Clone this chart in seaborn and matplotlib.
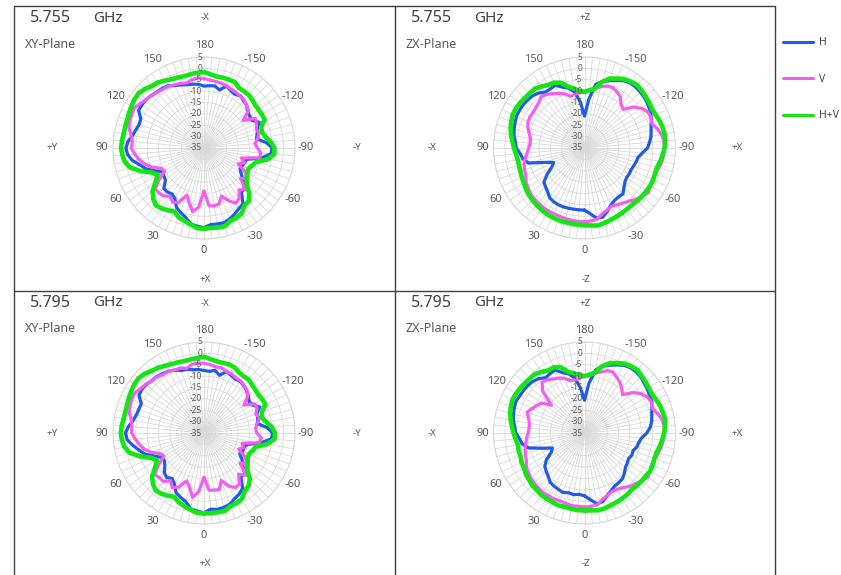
import numpy as np
import pandas as pd
import matplotlib
matplotlib.use('Agg')
import matplotlib.pyplot as plt
import matplotlib.transforms as mtransforms
from matplotlib.lines import Line2D
import seaborn as sns

sns.set_theme(style='white')
plt.rcParams['font.family'] = ['Noto Sans', 'DejaVu Sans']

# angles every 5 deg, 0 = bottom, 90 = left, 180 = top, 270 (= -90) = right
angle_deg = list(range(0, 360, 5))
r_ticks = [5, 0, -5, -10, -15, -20, -25, -30, -35]
series_names = ['H', 'V', 'H+V']

# ---- 5.755 GHz XY-Plane ----
xy1_h = [0.0, -0.5, -1.2, -3.5, -4.8, -6.3, -9.4, -10.4, -9.8, -10.0,
         -12.9, -13.5, -13.9, -11.3, -8.0, -6.0, -3.1, -1.3, -0.7, -1.5,
         -3.1, -4.0, -4.7, -4.3, -1.8, -1.8, -1.8, -2.3, -2.8, -3.0,
         -3.4, -4.7, -5.5, -6.2, -6.5, -6.9, -7.8] + \
        [-7.5, -7.3, -8.6, -6.0, -7.2, -7.8, -7.0, -8.0, -8.4, -10.0,
         -10.5, -10.7, -8.2, -10.0, -10.8, -11.6, -7.5, -5.0, -5.5, -9.5,
         -15.8, -16.0, -16.5, -16.7, -15.0, -12.5, -10.0, -9.4, -5.1, -4.3,
         -3.0, -1.9, -1.0, -1.1, -1.2]
xy1_v = [-16.0, -9.0, -6.5, -10.0, -13.0, -8.5, -7.5, -9.0, -7.5, -7.0,
         -7.0, -11.0, -15.0, -14.0, -10.5, -8.0, -6.0, -4.4, -3.0, -3.4,
         -2.5, -0.8, -0.3, 0.0, 0.3, -0.9, -1.8, -2.4, -3.0, -3.5,
         -3.8, -4.3, -4.8, -5.4, -4.5, -4.0, -4.5] + \
        [-5.0, -5.3, -5.5, -6.0, -6.5, -6.8, -7.2, -7.5, -8.5, -9.5,
         -14.0, -9.0, -9.5, -10.5, -10.0, -11.0, -12.5, -11.5, -10.0, -10.0,
         -18.0, -16.0, -18.5, -14.0, -12.0, -14.0, -9.0, -11.0, -8.0, -7.0,
         -9.5, -12.5, -9.5, -9.2, -9.5]
xy1_hv = [0.5, 0.4, -0.9, -1.8, -2.5, -4.2, -3.4, -2.6, -2.1, -3.5,
          -5.5, -9.0, -11.5, -9.5, -5.4, -1.5, 0.3, 1.0, 1.5, 1.2,
          0.9, 0.9, 1.0, 1.4, 1.8, 2.3, 2.5, 1.7, 0.6, 0.2,
          -0.8, -1.6, -2.0, -2.3, -2.0, -1.8, -1.6] + \
         [-2.5, -3.1, -3.0, -3.0, -3.0, -4.4, -4.5, -4.5, -5.0, -5.6,
          -5.7, -5.6, -5.6, -8.3, -8.5, -7.5, -5.4, -4.0, -4.0, -6.4,
          -11.2, -12.5, -13.5, -13.0, -12.0, -10.5, -6.9, -4.4, -4.1, -1.8,
          -1.2, -0.9, 0.6, 0.5, 0.3]

# ---- 5.755 GHz ZX-Plane ----
zx1_h = [-7.7, -7.7, -7.7, -7.6, -7.5, -7.5, -7.8, -8.3, -9.8, -10.8,
         -11.7, -15.0, -18.5, -20.0, -16.5, -9.5, -7.5, -6.6, -5.0, -4.5,
         -3.5, -3.0, -2.5, -2.0, -2.0, -2.0, -2.3, -2.6, -3.5, -5.0,
         -5.0, -4.6, -6.5, -7.8, -10.0, -14.9, -21.0] + \
        [-13.6, -6.6, -4.8, -3.5, -2.2, -0.8, -0.1, 0.0, -0.3, -0.6,
         -1.1, -1.8, -2.6, -3.8, -4.7, -5.3, -6.3, -7.3, -9.5, -11.1,
         -11.5, -12.0, -12.4, -12.3, -12.4, -11.8, -10.5, -8.7, -8.8, -8.5,
         -7.5, -5.5, -3.6, -3.6, -6.0]
zx1_v = [-2.6, -2.6, -2.7, -2.9, -3.1, -3.1, -3.1, -3.2, -3.4, -3.6,
         -3.9, -4.6, -5.3, -6.5, -7.0, -7.5, -8.5, -9.7, -10.5, -11.0,
         -10.9, -9.8, -8.5, -7.6, -7.4, -7.5, -7.2, -6.6, -5.5, -6.2,
         -7.4, -8.5, -9.7, -11.5, -11.0, -10.5, -10.3] + \
        [-9.5, -8.5, -7.1, -6.0, -5.7, -6.5, -7.5, -10.0, -11.0, -7.0,
         -4.5, -3.0, -2.8, -3.5, -2.0, -0.6, 0.0, 0.2, 0.0, -0.5,
         -1.2, -1.8, -2.2, -1.5, -0.8, -2.0, -3.1, -4.5, -5.5, -6.2,
         -6.8, -6.0, -5.0, -3.2, -2.8]
zx1_hv = [-1.1, -1.2, -1.3, -1.3, -1.3, -1.4, -1.6, -1.9, -2.2, -2.6,
          -3.0, -3.6, -4.2, -4.6, -5.0, -5.2, -5.2, -4.8, -4.0, -3.2,
          -2.2, -1.4, -0.8, -0.2, -0.2, -0.4, -0.8, -1.0, -1.0, -2.0,
          -3.0, -3.3, -4.5, -7.0, -8.5, -9.8, -10.3] + \
         [-9.5, -8.5, -4.9, -2.5, -1.3, 0.0, 0.6, 1.1, 0.6, 0.1,
          -0.2, -0.7, -0.5, 0.1, 0.5, 0.8, 0.6, 0.2, -0.5, -1.2,
          -2.0, -2.0, -1.7, -1.7, -1.9, -2.0, -2.2, -2.4, -2.3, -2.0,
          -1.7, -1.4, -0.9, -0.4, -0.8]

# ---- 5.795 GHz XY-Plane ----
xy2_h = [0.1, -0.6, -1.2, -3.8, -4.9, -6.0, -9.0, -10.6, -9.5, -10.3,
         -12.5, -13.8, -13.6, -11.0, -7.6, -5.6, -3.3, -1.1, -0.5, -1.7,
         -3.4, -4.2, -4.5, -4.6, -2.0, -1.6, -1.9, -2.5, -2.6, -3.2,
         -3.6, -4.5, -5.8, -6.0, -6.8, -7.0, -7.5] + \
        [-7.8, -7.0, -8.8, -6.2, -7.0, -7.6, -7.3, -7.8, -8.6, -9.6,
         -10.8, -10.4, -8.0, -10.3, -10.5, -11.2, -7.2, -4.8, -5.3, -9.8,
         -15.5, -16.3, -16.2, -16.9, -14.6, -12.8, -9.6, -9.8, -5.4, -4.0,
         -3.2, -1.7, -1.2, -0.9, -1.4]
xy2_v = [-15.5, -9.3, -6.2, -10.4, -12.6, -8.8, -7.2, -9.4, -7.2, -7.3,
         -6.6, -10.6, -14.6, -13.7, -10.2, -7.7, -6.2, -4.6, -3.2, -3.1,
         -2.7, -1.0, -0.4, 0.1, 0.2, -1.0, -1.6, -2.6, -2.8, -3.7,
         -3.6, -4.5, -4.6, -5.6, -4.3, -4.2, -4.3] + \
        [-4.8, -5.5, -5.3, -6.2, -6.3, -7.0, -7.0, -7.7, -8.3, -9.8,
         -13.6, -9.3, -9.2, -10.8, -9.7, -11.3, -12.2, -11.8, -9.7, -10.3,
         -17.6, -16.4, -18.2, -14.3, -11.7, -14.3, -8.8, -11.3, -7.7, -7.3,
         -9.2, -12.8, -9.2, -9.5, -9.8]
xy2_hv = [0.3, 0.2, -0.8, -1.6, -2.6, -4.0, -3.2, -2.4, -2.0, -3.3,
          -5.2, -8.8, -11.2, -9.2, -5.0, -1.2, 0.5, 1.2, 1.6, 1.3,
          0.9, 0.8, 1.0, 1.5, 1.9, 2.4, 2.5, 1.8, 0.7, 0.1,
          -0.9, -1.5, -1.9, -2.2, -2.1, -1.9, -1.5] + \
         [-2.4, -3.0, -3.1, -2.9, -3.2, -4.2, -4.6, -4.4, -5.1, -5.5,
          -5.8, -5.4, -5.2, -7.9, -8.7, -7.2, -5.0, -3.8, -3.9, -6.8,
          -11.5, -12.2, -13.2, -12.8, -11.6, -10.2, -6.5, -4.6, -3.8, -1.6,
          -1.0, -0.8, 0.5, 0.4, 0.4]

# ---- 5.795 GHz ZX-Plane ----
zx2_h = [-7.4, -7.9, -7.5, -7.8, -7.2, -7.7, -8.1, -8.6, -10.2, -11.2,
         -12.2, -14.6, -18.2, -19.4, -15.4, -9.6, -7.2, -6.3, -4.8, -4.2,
         -3.3, -2.7, -2.2, -1.8, -2.2, -2.3, -2.5, -2.9, -3.8, -5.3,
         -4.8, -4.4, -6.8, -8.1, -10.4, -15.3, -20.6] + \
        [-13.2, -6.9, -4.5, -3.3, -2.0, -0.6, 0.1, 0.2, -0.1, -0.8,
         -1.3, -2.0, -2.3, -3.5, -4.4, -5.0, -6.0, -7.6, -9.8, -10.8,
         -11.2, -12.3, -12.0, -12.6, -12.0, -11.5, -10.2, -8.9, -8.5, -8.2,
         -7.2, -5.8, -3.8, -3.4, -5.6]
zx2_v = [-2.4, -2.7, -2.6, -3.0, -3.3, -3.0, -3.3, -3.1, -3.5, -3.8,
         -4.1, -4.8, -5.5, -6.8, -7.3, -8.0, -8.8, -9.5, -10.2, -10.6,
         -10.4, -9.5, -8.2, -9.5, -10.8, -12.0, -16.0, -9.0, -6.0, -6.4,
         -7.6, -8.3, -9.4, -11.2, -11.3, -10.8, -10.0] + \
        [-9.7, -8.2, -7.3, -5.8, -5.5, -6.7, -7.8, -9.6, -11.2, -7.3,
         -4.8, -3.2, -2.6, -3.3, -1.8, -0.4, 0.2, 0.3, -0.2, -0.7,
         -1.4, -2.0, -2.4, -1.7, -1.0, -2.2, -3.3, -4.3, -5.7, -6.4,
         -6.6, -5.8, -4.7, -3.0, -2.6]
zx2_hv = [-1.0, -1.0, -1.2, -1.4, -1.2, -1.5, -1.7, -1.8, -2.3, -2.5,
          -3.1, -3.5, -4.3, -4.5, -5.1, -5.0, -5.3, -4.6, -3.8, -3.0,
          -2.0, -1.2, -0.6, -0.1, -0.3, -0.5, -0.9, -1.1, -1.2, -2.2,
          -3.2, -3.1, -4.2, -7.2, -8.3, -9.5, -10.0] + \
         [-9.2, -8.0, -4.6, -2.3, -1.1, 0.2, 0.8, 1.2, 0.5, 0.0,
          -0.4, -0.8, -0.3, 0.3, 0.6, 0.9, 0.5, 0.0, -0.7, -1.4,
          -2.2, -2.3, -1.9, -1.6, -2.1, -2.2, -2.4, -2.6, -2.1, -1.8,
          -1.5, -1.2, -0.7, -0.5, -0.9]

freqs = ['5.755', '5.755', '5.795', '5.795']
planes = ['XY-Plane', 'ZX-Plane', 'XY-Plane', 'ZX-Plane']
# top, bottom, left, right
dir_labels = [('-X', '+X', '+Y', '-Y'), ('+Z', '-Z', '-X', '+X'),
              ('-X', '+X', '+Y', '-Y'), ('+Z', '-Z', '-X', '+X')]
panel_data = [(xy1_h, xy1_v, xy1_hv), (zx1_h, zx1_v, zx1_hv),
              (xy2_h, xy2_v, xy2_hv), (zx2_h, zx2_v, zx2_hv)]

# ---- layout (pixels) ----
W, H = 841, 575
box_origin = [(14, 6), (395, 6), (14, 291), (395, 291)]
centers = [(204, 148), (584.5, 148), (204, 433), (584.5, 433)]
R = 91
colors = {'H': '#1F5BE8', 'V': '#F55DF0', 'H+V': '#14E614'}
widths = {'H': 2.3, 'V': 2.3, 'H+V': 3.3}
grey = '#595959'
grid_c = '#d9d9d9'


def fx(x):
    return x / W


def fy(y):
    return 1 - y / H


def make_df(h, v, hv):
    rows = []
    for name, vals in zip(series_names, (h, v, hv)):
        assert len(vals) == len(angle_deg)
        th = np.deg2rad(angle_deg + [360])
        vv = list(vals) + [vals[0]]
        rows.append(pd.DataFrame({'theta': th, 'value': vv, 'series': name}))
    return pd.concat(rows, ignore_index=True)


fig = plt.figure(figsize=(W / 100, H / 100), dpi=100)

# panel borders
for x in [14, 395, 775]:
    fig.add_artist(Line2D([fx(x), fx(x)], [fy(6), fy(576)], transform=fig.transFigure,
                          color='#404040', lw=1))
for y in [6, 291]:
    fig.add_artist(Line2D([fx(14), fx(775)], [fy(y), fy(y)], transform=fig.transFigure,
                          color='#404040', lw=1))

theta_tick_deg = np.arange(0, 360, 5)
theta_tick_lab = [str(a if a <= 180 else a - 360) if a % 30 == 0 else '' for a in theta_tick_deg]

for i in range(4):
    cx, cy = centers[i]
    bx, by = box_origin[i]
    ax = fig.add_axes([fx(cx - R), fy(cy + R), 2 * R / W, 2 * R / H], projection='polar')
    ax.set_theta_zero_location('S')
    ax.set_theta_direction(-1)

    df = make_df(*panel_data[i])
    sns.lineplot(data=df, x='theta', y='value', hue='series', size='series',
                 hue_order=series_names, size_order=series_names,
                 palette=colors, sizes=widths, sort=False, estimator=None,
                 legend=False, ax=ax)
    ax.set_xlabel('')
    ax.set_ylabel('')
    ax.set_xlim(0, 2 * np.pi)
    ax.set_ylim(-35, 5)

    ax.set_xticks(np.deg2rad(theta_tick_deg))
    ax.set_xticklabels(theta_tick_lab, fontsize=8, color=grey)
    ax.tick_params(axis='x', pad=-5)
    ax.set_yticks(r_ticks)
    ax.set_yticklabels([])
    ax.grid(True, color=grid_c, lw=0.6)
    ax.spines['polar'].set_color(grid_c)
    ax.spines['polar'].set_linewidth(0.8)
    ax.set_facecolor('white')

    off = mtransforms.offset_copy(ax.transData, fig=fig, x=-2, y=0, units='dots')
    for r in r_ticks:
        ax.text(np.pi, r, str(r), transform=off, ha='right', va='center',
                fontsize=6, color=grey)

    # titles
    fig.text(fx(bx + 16), fy(by + 12), freqs[i], fontsize=11.5, color='#404040',
             ha='left', va='center')
    fig.text(fx(bx + 79), fy(by + 12), 'GHz', fontsize=11, color='#404040',
             ha='left', va='center')
    fig.text(fx(bx + 11), fy(by + 38), planes[i], fontsize=9, color=grey,
             ha='left', va='center')

    top, bottom, left, right = dir_labels[i]
    fig.text(fx(cx + 1), fy(cy - 130), top, fontsize=7, color=grey, ha='center', va='center')
    fig.text(fx(cx + 1), fy(cy + 131), bottom, fontsize=7, color=grey, ha='center', va='center')
    fig.text(fx(cx - 152), fy(cy), left, fontsize=7, color=grey, ha='center', va='center')
    fig.text(fx(cx + 153), fy(cy), right, fontsize=7, color=grey, ha='center', va='center')

handles = [Line2D([], [], color=colors[s], lw=2.2) for s in series_names]
fig.legend(handles, series_names, loc='upper left', bbox_to_anchor=(fx(774), fy(28)),
           frameon=False, fontsize=7.5, handlelength=2.8, labelspacing=2.45,
           handletextpad=0.6, labelcolor='#404040')

fig.savefig('out.png', dpi=100)
